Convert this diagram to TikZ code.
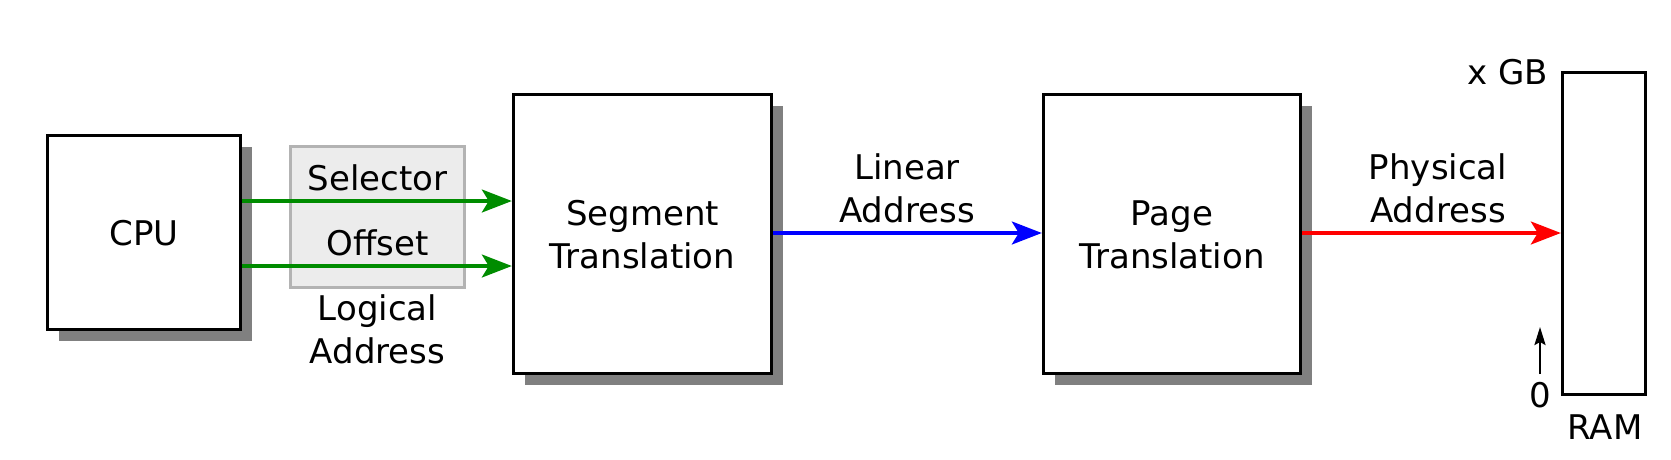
\documentclass[tikz,border=0pt]{standalone}
\usepackage{fontspec}
\setmainfont{DejaVu Sans}
\usetikzlibrary{arrows.meta,shadows}
\definecolor{arrgreen}{RGB}{0,140,0}
\definecolor{boxgray}{RGB}{236,236,236}
\definecolor{bordergray}{RGB}{179,179,179}
\definecolor{shadowgray}{RGB}{128,128,128}
\tikzset{
  x=1pt, y=-1pt,
  txt/.style={font=\fontsize{34}{43}\selectfont, align=center, inner sep=0pt},
  blockbox/.style={draw=black, line width=3.4pt, fill=white, inner sep=0pt,
    drop shadow={shadow xshift=11pt, shadow yshift=-11pt, fill=shadowgray, opacity=1}},
  conn/.style={line width=3.2pt, -{Stealth[length=30pt,width=23pt,inset=7pt]}},
}
\begin{document}
\begin{tikzpicture}
\useasboundingbox (0,0) rectangle (1671,459);
% logical address box
\node[draw=bordergray, fill=boxgray, line width=3.2pt, minimum width=174pt, minimum height=141pt, inner sep=0pt] (logbox) at (377.5,217) {};
\node[txt] (sel) at (377.5,178) {Selector};
\node[txt] (off) at (377.5,243) {Offset};
\node[txt] (logical) at (377.5,329) {Logical\\Address};
% blocks
\node[blockbox, minimum width=193pt, minimum height=194pt] (cpu) at (144,232.5) {};
\node[txt] (cputxt) at (144,233) {CPU};
\node[blockbox, minimum width=258pt, minimum height=279pt] (seg) at (642.5,234) {};
\node[txt] (segtxt) at (642.5,234.5) {Segment\\Translation};
\node[blockbox, minimum width=257pt, minimum height=279pt] (page) at (1172,234) {};
\node[txt] (pagetxt) at (1172,234.5) {Page\\Translation};
\node[draw=black, line width=3.4pt, fill=white, minimum width=83pt, minimum height=322pt, inner sep=0pt] (ram) at (1604,233.5) {};
\node[txt] (ramtxt) at (1605,427) {RAM};
\node[txt, anchor=east] (xgb) at (1548,72) {x GB};
\node[txt] (zero) at (1540,395) {0};
\coordinate (zbot) at (1540,374);
\coordinate (ztop) at (1540,327);
% labels
\node[txt] (lin) at (907,188.5) {Linear\\Address};
\node[txt] (phys) at (1438,188.5) {Physical\\Address};
% connectors
\draw[conn, arrgreen] (cpu.east |- 0,201) -- (seg.west |- 0,201);
\draw[conn, arrgreen] (cpu.east |- 0,266) -- (seg.west |- 0,266);
\draw[conn, blue] (seg.east |- 0,233) -- (page.west |- 0,233);
\draw[conn, red] (page.east |- 0,233) -- (ram.west |- 0,233);
\draw[line width=2.5pt, -{Stealth[length=18pt,width=11pt,inset=3pt]}] (zbot) -- (ztop);
\end{tikzpicture}
\end{document}
